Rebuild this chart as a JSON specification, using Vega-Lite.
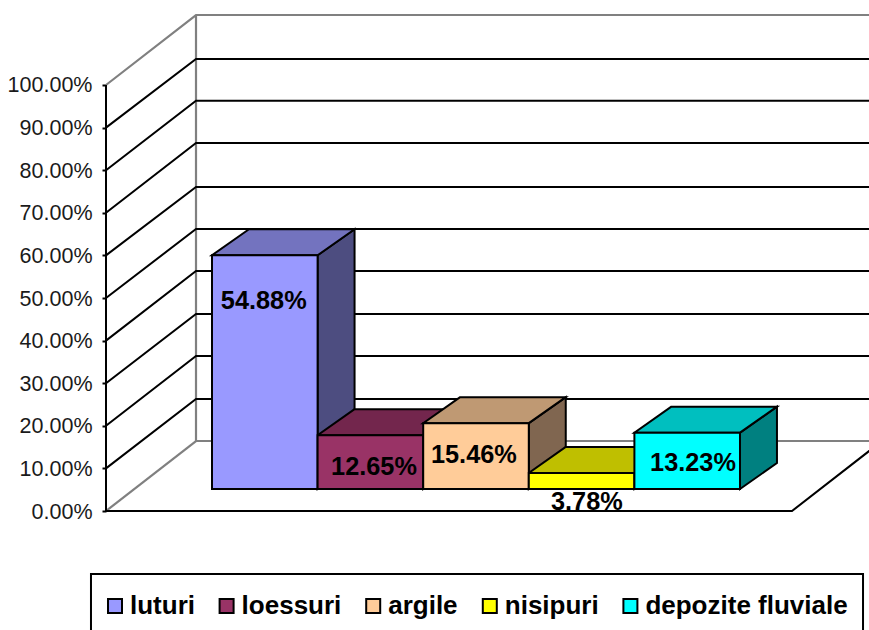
{
"$schema":"https://vega.github.io/schema/vega-lite/v6.json",
"width":763,"height":630,
"autosize":{"type":"none"},
"padding":{"left":106,"top":0,"right":0,"bottom":0},
"background":"white",
"config":{"view":{"stroke":null},"font":"Liberation Sans"},
"datasets":{
"bars":[
{"soil":"luturi","value":0.5488,"x0":0,"x1":1,"base":0.0516,"top":0.6004,"labelX":0.49,"labelY":0.493},
{"soil":"loessuri","value":0.1265,"x0":1,"x1":2,"base":0.0516,"top":0.1781,"labelX":1.534,"labelY":0.1033},
{"soil":"argile","value":0.1546,"x0":2,"x1":3,"base":0.0516,"top":0.2062,"labelX":2.48,"labelY":0.1315},
{"soil":"nisipuri","value":0.0378,"x0":3,"x1":4,"base":0.0516,"top":0.0894,"labelX":3.55,"labelY":0.0211},
{"soil":"depozite fluviale","value":0.1323,"x0":4,"x1":5,"base":0.0516,"top":0.1839,"labelX":4.555,"labelY":0.1127}
],
"sides":[
{"soil":"luturi","x":1,"y0":0.0516,"y1":0.6004},{"soil":"luturi","x":1.35,"y0":0.1126,"y1":0.6614},
{"soil":"loessuri","x":2,"y0":0.0516,"y1":0.1781},{"soil":"loessuri","x":2.35,"y0":0.1126,"y1":0.2391},
{"soil":"argile","x":3,"y0":0.0516,"y1":0.2062},{"soil":"argile","x":3.35,"y0":0.1126,"y1":0.2672},
{"soil":"nisipuri","x":4,"y0":0.0516,"y1":0.0894},{"soil":"nisipuri","x":4.35,"y0":0.1126,"y1":0.1504},
{"soil":"depozite fluviale","x":5,"y0":0.0516,"y1":0.1839},{"soil":"depozite fluviale","x":5.35,"y0":0.1126,"y1":0.2449}
],
"tops":[
{"soil":"luturi","y":0.6004,"x0":0,"x1":1},{"soil":"luturi","y":0.6614,"x0":0.35,"x1":1.35},
{"soil":"loessuri","y":0.1781,"x0":1,"x1":2},{"soil":"loessuri","y":0.2391,"x0":1.35,"x1":2.35},
{"soil":"argile","y":0.2062,"x0":2,"x1":3},{"soil":"argile","y":0.2672,"x0":2.35,"x1":3.35},
{"soil":"nisipuri","y":0.0894,"x0":3,"x1":4},{"soil":"nisipuri","y":0.1504,"x0":3.35,"x1":4.35},
{"soil":"depozite fluviale","y":0.1839,"x0":4,"x1":5},{"soil":"depozite fluviale","y":0.2449,"x0":4.35,"x1":5.35}
],
"grid":[
{"id":"g10","o":0,"x":-1.0038,"y":0.1},{"id":"g10","o":1,"x":-0.1515,"y":0.2629},{"id":"g10","o":2,"x":6.3447,"y":0.2629},
{"id":"g20","o":0,"x":-1.0038,"y":0.2},{"id":"g20","o":1,"x":-0.1515,"y":0.3638},{"id":"g20","o":2,"x":6.3447,"y":0.3638},
{"id":"g30","o":0,"x":-1.0038,"y":0.3},{"id":"g30","o":1,"x":-0.1515,"y":0.4624},{"id":"g30","o":2,"x":6.3447,"y":0.4624},
{"id":"g40","o":0,"x":-1.0038,"y":0.4},{"id":"g40","o":1,"x":-0.1515,"y":0.5634},{"id":"g40","o":2,"x":6.3447,"y":0.5634},
{"id":"g50","o":0,"x":-1.0038,"y":0.5},{"id":"g50","o":1,"x":-0.1515,"y":0.662},{"id":"g50","o":2,"x":6.3447,"y":0.662},
{"id":"g60","o":0,"x":-1.0038,"y":0.6},{"id":"g60","o":1,"x":-0.1515,"y":0.7606},{"id":"g60","o":2,"x":6.3447,"y":0.7606},
{"id":"g70","o":0,"x":-1.0038,"y":0.7},{"id":"g70","o":1,"x":-0.1515,"y":0.8638},{"id":"g70","o":2,"x":6.3447,"y":0.8638},
{"id":"g80","o":0,"x":-1.0038,"y":0.8},{"id":"g80","o":1,"x":-0.1515,"y":0.9632},{"id":"g80","o":2,"x":6.3447,"y":0.9632},
{"id":"g90","o":0,"x":-1.0038,"y":0.9},{"id":"g90","o":1,"x":-0.1515,"y":1.061},{"id":"g90","o":2,"x":6.3447,"y":1.061},
{"id":"axis","o":0,"x":-1.0038,"y":0},{"id":"axis","o":1,"x":-1.0038,"y":1},
{"id":"front","o":0,"x":-1.0038,"y":0},{"id":"front","o":1,"x":5.4924,"y":0},{"id":"front","o":2,"x":6.3447,"y":0.1643}
],
"wall":[
{"id":"outline","o":0,"x":-1.0038,"y":1},{"id":"outline","o":1,"x":-0.1515,"y":1.1643},{"id":"outline","o":2,"x":6.3447,"y":1.1643},
{"id":"edge","o":0,"x":-0.1515,"y":1.1643},{"id":"edge","o":1,"x":-0.1515,"y":0.1643},{"id":"edge","o":2,"x":6.3447,"y":0.1643},
{"id":"floor","o":0,"x":-1.0038,"y":0},{"id":"floor","o":1,"x":-0.1515,"y":0.1643}
],
"frame":[{"x0":-1.146,"x1":6.165,"y0":-0.1479,"y1":-0.35}]
},
"layer":[
{"data":{"name":"frame"},
 "mark":{"type":"rect","fill":"white","stroke":"black","strokeWidth":2},
 "encoding":{
  "x":{"field":"x0","type":"quantitative","scale":{"domain":[-1.0038,6.2216],"nice":false,"zero":false},"axis":null},
  "x2":{"field":"x1"},
  "y":{"field":"y0","type":"quantitative","scale":{"domain":[-0.27934,1.19953],"nice":false,"zero":false},
   "axis":{"values":[0,0.1,0.2,0.3,0.4,0.5,0.6,0.7,0.8,0.9,1],"format":".2%","title":null,"grid":false,"domain":false,"tickColor":"black","tickWidth":2,"tickSize":4,"labelPadding":10,"labelOffset":1,"labelFont":"Liberation Sans","labelFontSize":21.5,"labelColor":"#1a1a1a"}},
  "y2":{"field":"y1"}}},
{"data":{"name":"wall"},
 "mark":{"type":"line","stroke":"#808080","strokeWidth":2.2,"interpolate":"linear"},
 "encoding":{"x":{"field":"x","type":"quantitative"},"y":{"field":"y","type":"quantitative"},"detail":{"field":"id"},"order":{"field":"o"}}},
{"data":{"name":"grid"},
 "mark":{"type":"line","stroke":"black","strokeWidth":2,"interpolate":"linear"},
 "encoding":{"x":{"field":"x","type":"quantitative"},"y":{"field":"y","type":"quantitative"},"detail":{"field":"id"},"order":{"field":"o"}}},
{"data":{"name":"sides"},
 "mark":{"type":"area","orient":"vertical","stroke":"black","strokeWidth":2},
 "encoding":{"x":{"field":"x","type":"quantitative"},"y":{"field":"y0","type":"quantitative"},"y2":{"field":"y1"},
  "color":{"field":"soil","type":"nominal","legend":null,"scale":{"domain":["luturi","loessuri","argile","nisipuri","depozite fluviale"],"range":["#4D4D80","#4D1A33","#806650","#808000","#008080"]}}}},
{"data":{"name":"tops"},
 "mark":{"type":"area","orient":"horizontal","stroke":"black","strokeWidth":2},
 "encoding":{"y":{"field":"y","type":"quantitative"},"x":{"field":"x0","type":"quantitative"},"x2":{"field":"x1"},
  "color":{"field":"soil","type":"nominal","legend":null,"scale":{"domain":["luturi","loessuri","argile","nisipuri","depozite fluviale"],"range":["#7373BF","#73264D","#BF9973","#BFBF00","#00BFBF"]}}}},
{"data":{"name":"bars"},
 "mark":{"type":"rect","stroke":"black","strokeWidth":2},
 "encoding":{"x":{"field":"x0","type":"quantitative"},"x2":{"field":"x1"},"y":{"field":"base","type":"quantitative"},"y2":{"field":"top"},
  "color":{"field":"soil","type":"nominal","scale":{"domain":["luturi","loessuri","argile","nisipuri","depozite fluviale"],"range":["#9999FF","#993366","#FFCC99","#FFFF00","#00FFFF"]},
   "legend":{"title":null,"orient":"none","legendX":-4,"legendY":593,"direction":"horizontal","columns":5,"gridAlign":"none","columnPadding":18.6,"symbolType":"square","symbolSize":196,"symbolStrokeColor":"black","symbolStrokeWidth":2,"labelFont":"Liberation Sans","labelFontWeight":"bold","labelFontSize":26,"labelColor":"black","labelOffset":2,"labelLimit":300,"padding":0}}}},
{"data":{"name":"bars"},
 "mark":{"type":"text","font":"Liberation Sans","fontWeight":"bold","fontSize":25.3,"color":"black","baseline":"middle","align":"center"},
 "encoding":{"x":{"field":"labelX","type":"quantitative"},"y":{"field":"labelY","type":"quantitative"},"text":{"field":"value","type":"quantitative","format":".2%"}}}
],
"resolve":{"scale":{"color":"independent"}}
}
